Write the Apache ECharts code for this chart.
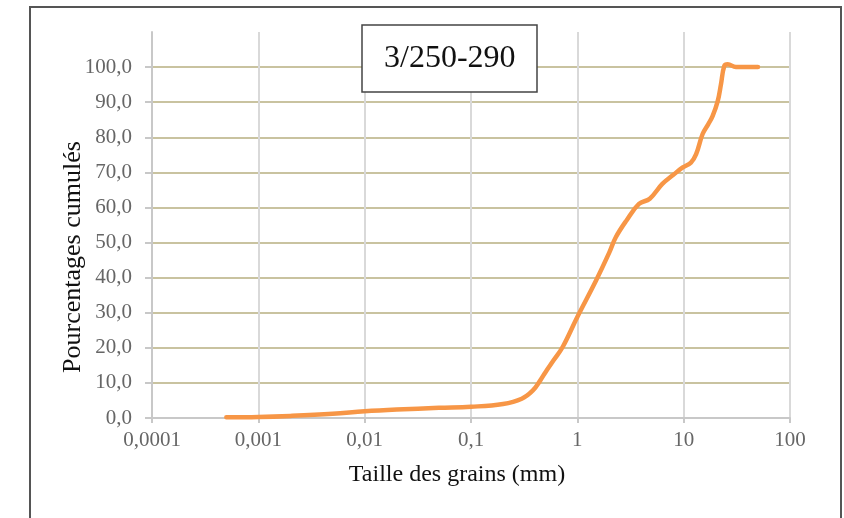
<!DOCTYPE html>
<html>
<head>
<meta charset="utf-8">
<script src="https://cdn.jsdelivr.net/npm/echarts@6/dist/echarts.min.js"></script>
<style>
html,body{margin:0;padding:0;background:#fff;}
#chart{width:844px;height:518px;}
</style>
</head>
<body>
<div id="chart"></div>
<script>
// Grain sizes (mm) and cumulative percentages
var grainSizes = [0.0005, 0.001, 0.002, 0.005, 0.01, 0.02, 0.05, 0.1, 0.2, 0.3, 0.38, 0.45, 0.5, 0.6, 0.73, 1.0, 1.5, 2.0, 2.3, 2.9, 3.8, 4.8, 6.3, 8.0, 9.8, 11.7, 13.1, 15.1, 17.0, 18.7, 20.9, 22.4, 24.1, 26.0, 31.0, 50.0];
var cumulative = [0.2, 0.3, 0.6, 1.2, 1.9, 2.4, 2.9, 3.2, 4.0, 5.5, 7.8, 10.8, 13.0, 16.5, 20.3, 28.8, 39.2, 47.2, 51.5, 56.3, 61.0, 62.5, 66.7, 69.3, 71.4, 72.8, 75.2, 81.0, 83.7, 86.0, 90.3, 95.0, 100.3, 100.8, 100.0, 100.0];
var yTicks = [0, 10, 20, 30, 40, 50, 60, 70, 80, 90, 100];
var titleText = '3/250-290';
var xName = 'Taille des grains (mm)';
var yName = 'Pourcentages cumulés';

var data = grainSizes.map(function (s, i) { return [s, cumulative[i]]; });

var chart = echarts.init(document.getElementById('chart'), null, {renderer: 'canvas'});
var serif = '"Liberation Serif", "DejaVu Serif", serif';
chart.setOption({
  animation: false,
  backgroundColor: '#fff',
  title: {
    text: titleText,
    left: 362,
    top: 25,
    padding: [17, 22, 17, 22],
    backgroundColor: '#fff',
    borderColor: '#444',
    borderWidth: 1.5,
    textStyle: {fontFamily: serif, fontSize: 32, fontWeight: 'normal', color: '#111', lineHeight: 33}
  },
  graphic: [{
    type: 'rect',
    shape: {x: 30, y: 7, width: 811, height: 540},
    style: {fill: 'none', stroke: '#555', lineWidth: 2},
    silent: true,
    z: 100
  }],
  grid: {left: 152, right: 54, top: 32, bottom: 100, containLabel: false},
  xAxis: {
    type: 'log',
    logBase: 10,
    min: 0.0001,
    max: 100,
    name: xName,
    nameLocation: 'middle',
    nameGap: 45,
    nameMoveOverlap: false,
    nameTextStyle: {fontFamily: serif, fontSize: 24, color: '#111', padding: [0, 28, 0, 0]},
    axisLine: {show: true, lineStyle: {color: '#c8c8c8', width: 2}},
    axisTick: {show: true, length: 5, lineStyle: {color: '#c8c8c8', width: 2}},
    minorTick: {show: false},
    axisLabel: {
      margin: 12,
      fontFamily: serif, fontSize: 21, color: '#666',
      formatter: function (v) { return String(Number(v.toPrecision(6))).replace('.', ','); }
    },
    splitLine: {show: true, showMinLine: false, lineStyle: {color: '#d9d9d9', width: 2}}
  },
  yAxis: {
    type: 'value',
    min: 0,
    max: 110,
    interval: 10,
    name: yName,
    nameLocation: 'middle',
    nameGap: 66,
    nameMoveOverlap: false,
    nameTextStyle: {fontFamily: serif, fontSize: 26, color: '#111', padding: [0, 64, 0, 0]},
    axisLine: {show: true, lineStyle: {color: '#c8c8c8', width: 2}},
    axisTick: {show: true, length: 7, customValues: yTicks, lineStyle: {color: '#c8c8c8', width: 2}},
    axisLabel: {
      customValues: yTicks,
      margin: 20,
      fontFamily: serif, fontSize: 21, color: '#666',
      formatter: function (v) { return v.toFixed(1).replace('.', ','); }
    },
    splitLine: {show: true, showMinLine: false, lineStyle: {color: '#c9c3a0', width: 2}}
  },
  series: [{
    type: 'line',
    data: data,
    smooth: 0.4,
    showSymbol: false,
    symbol: 'none',
    lineStyle: {color: '#f79646', width: 4.5, cap: 'round', join: 'round'},
    z: 5
  }]
});
</script>
</body>
</html>
